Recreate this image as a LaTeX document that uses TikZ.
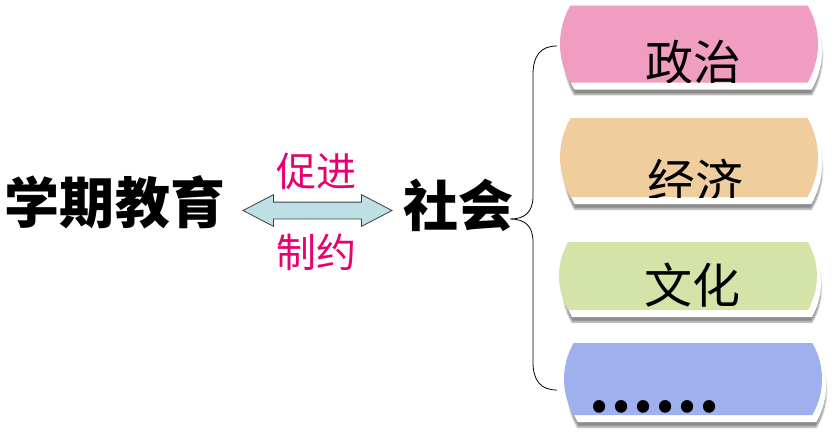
\documentclass[tikz,border=0pt]{standalone}
\usepackage{fontspec}
\newfontfamily\cjk{Noto Sans CJK SC}
\usepackage{xcolor}
\usetikzlibrary{positioning, shapes.misc, shapes.arrows, shadows, shadows.blur}

\definecolor{zzpink}{RGB}{240,157,193}
\definecolor{zztan}{RGB}{240,205,157}
\definecolor{zzgreen}{RGB}{212,228,168}
\definecolor{zzblue}{RGB}{158,177,238}
\definecolor{zzcyan}{RGB}{188,224,228}
\definecolor{zzrose}{RGB}{232,0,110}

\tikzset{
    bigtext/.style={inner sep=0pt, font=\cjk\bfseries\fontsize{55}{60}\selectfont},
    redtext/.style={inner sep=0pt, text=zzrose, font=\cjk\fontsize{40}{46}\selectfont},
    pill/.style={rounded rectangle, rounded rectangle arc length=60,
        minimum width=258pt, minimum height=#1, inner sep=0pt,
        blur shadow={shadow xshift=4pt, shadow yshift=-12pt, shadow blur steps=6, shadow opacity=45},
        general shadow={fill=white, shadow xshift=4pt, shadow yshift=-7pt}},
    pilltext/.style n args={3}{path picture={
        \node[inner sep=0pt, font=\cjk\fontsize{48}{54}\selectfont]
            at ([xshift=#1, yshift=#2]path picture bounding box.center) {#3};}},
}

\begin{document}
\begin{tikzpicture}[x=1pt, y=-1pt, >=stealth]
    % Khung ảnh theo kích thước gốc
    \useasboundingbox (0,0) rectangle (837,437);

    % Hai vế chính
    \node[bigtext] (edu) at (115,202) {学期教育};
    \node[bigtext] (soc) at (458,205) {社会};

    % Mũi tên hai chiều và hai nhãn
    \node[double arrow, draw=black!75, line width=0.8pt, fill=zzcyan,
        minimum height=149pt, minimum width=31pt, inner xsep=0pt, inner ysep=8pt,
        double arrow head extend=7.5pt, double arrow tip angle=55] (link) at (317.5,210.5) {};
    \node[redtext] (up) at (316,171) {促进};
    \node[redtext] (down) at (316,252) {制约};

    % Bốn hộp bên phải
    \node[pill=77pt, fill=zzpink, pilltext={4pt}{-18pt}{政治}] (pol) at (689,44) {};
    \node[pill=79pt, fill=zztan, pilltext={6pt}{-23pt}{经济}] (eco) at (689,157.5) {};
    \node[pill=68pt, fill=zzgreen, pilltext={4pt}{-9pt}{文化}] (cul) at (688,276) {};
    \node[pill=72pt, fill=zzblue, pilltext={-39pt}{-28pt}{\bfseries\fontsize{58}{62}\selectfont ……}] (etc) at (693,379) {};

    % Dấu ngoặc nhọn
    \coordinate (tip) at (510,219);
    \coordinate (bt) at (557,46);
    \coordinate (bb) at (557,390);
    \draw[line width=0.8pt] (bt) .. controls (541,46) and (533,55) .. (533,75) -- (533,196)
        .. controls (533,212) and (525,219) .. (tip)
        .. controls (525,219) and (533,226) .. (533,242) -- (533,362)
        .. controls (533,381) and (541,390) .. (bb);
\end{tikzpicture}
\end{document}
